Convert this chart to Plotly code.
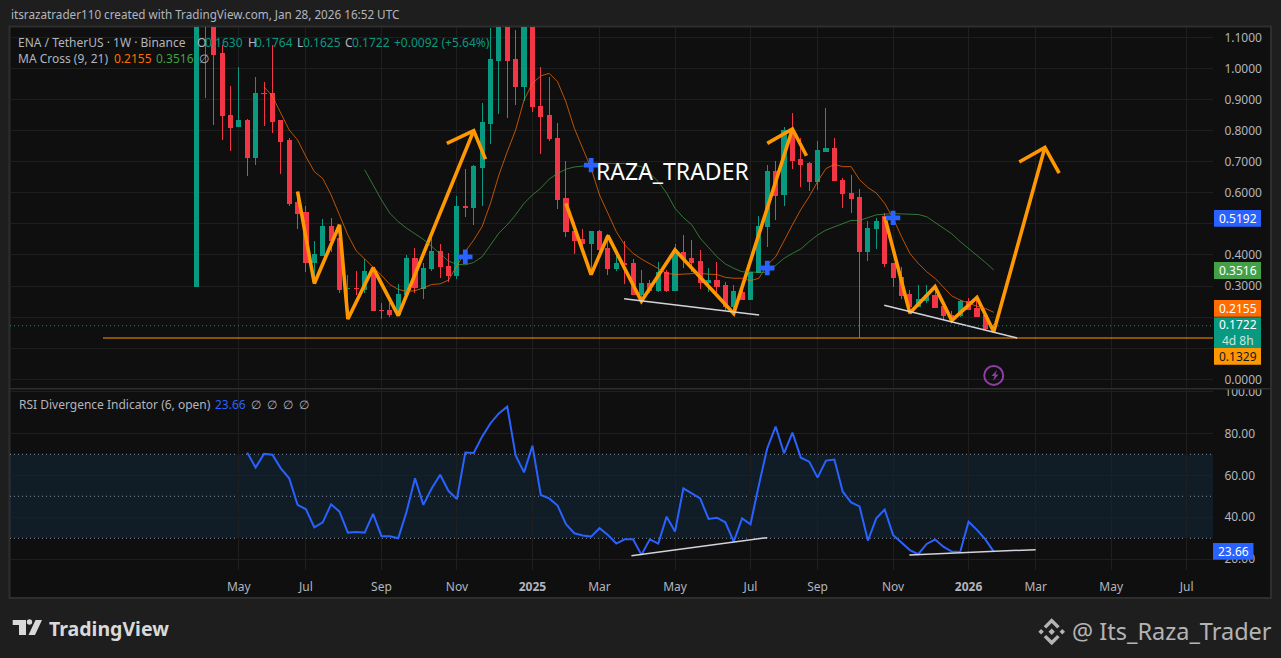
import pandas as pd
import plotly.graph_objects as go

# ---------- data ----------
first_bar = "2024-04-01"
opens = [.299,1.18,1.25,1.049,.847,.813,.831,.713,.920,.920,.831,.767,.569,.535,.375,.397,.493,.452,.291,.293,
         .290,.348,.222,.222,.209,.272,.390,.292,.355,.412,.364,.335,.555,.552,.680,.822,1.027,1.14,1.030,.941,
         1.16,.878,.847,.775,.580,.477,.451,.437,.477,.421,.355,.371,.371,.274,.309,.285,.345,.285,.408,.389,
         .380,.311,.319,.303,.233,.280,.258,.344,.491,.670,.593,.799,.708,.694,.637,.734,.744,.641,.599,.584,
         .411,.484,.523,.374,.329,.273,.235,.255,.268,.235,.206,.206,.251,.228,.206,.1630]
highs = [1.30,1.40,1.40,1.075,.943,1.004,.837,.972,.955,1.075,.834,.775,.604,.557,.445,.516,.520,.497,.335,.348,
         .386,.362,.244,.244,.305,.400,.423,.373,.464,.435,.407,.590,.676,.689,.888,1.13,1.20,1.20,1.124,1.25,
         1.22,1.003,.973,.824,.702,.507,.484,.477,.479,.466,.400,.445,.387,.351,.319,.378,.351,.434,.464,.448,
         .416,.357,.376,.314,.303,.314,.346,.526,.689,.702,.812,.856,.775,.698,.767,.872,.775,.646,.658,.612,
         .509,.518,.534,.374,.360,.287,.303,.303,.298,.244,.220,.255,.263,.260,.209,.1764]
lows = [.299,.906,.819,.770,.734,.810,.655,.690,.816,.793,.660,.556,.485,.346,.314,.397,.411,.278,.201,.271,
        .276,.220,.194,.201,.206,.272,.276,.258,.348,.327,.312,.322,.522,.497,.556,.757,.854,.842,.883,.895,
        .861,.726,.767,.547,.459,.403,.411,.341,.389,.335,.348,.308,.271,.255,.276,.281,.281,.285,.357,.346,
        .292,.281,.271,.222,.222,.255,.255,.344,.427,.513,.558,.678,.618,.607,.609,.730,.639,.552,.536,.1329,
        .380,.419,.362,.298,.257,.222,.233,.244,.228,.191,.186,.199,.222,.201,.159,.1625]
closes = [1.18,1.25,1.046,.847,.810,.831,.713,.920,.918,.829,.764,.564,.532,.375,.400,.493,.445,.290,.293,.291,
          .348,.220,.220,.209,.274,.390,.294,.358,.412,.362,.335,.555,.552,.683,.825,1.030,1.14,1.027,.941,1.16,
          .876,.845,.774,.577,.474,.448,.438,.477,.419,.355,.371,.369,.274,.309,.285,.345,.285,.411,.387,.377,
          .311,.319,.300,.233,.281,.258,.344,.493,.670,.590,.799,.705,.692,.637,.736,.744,.639,.597,.580,.411,
          .484,.509,.371,.326,.271,.235,.257,.269,.232,.206,.194,.251,.226,.203,.1630,.1722]

ma9_start = 8
ma9 = [.941,.910,.856,.802,.770,.716,.668,.646,.593,.529,.464,.413,.387,.360,.335,.305,
       .289,.283,.285,.294,.305,.307,.319,.365,.411,.448,.491,.566,.657,.732,.802,.898,
       .952,.976,.984,.957,.892,.807,.743,.678,.593,.534,.475,.432,.405,.387,.371,.357,
       .341,.337,.338,.341,.341,.338,.337,.328,.325,.325,.317,.325,.368,.394,.448,.497,
       .546,.588,.636,.678,.691,.684,.684,.642,.617,.599,.566,.518,.459,.405,.373,.346,
       .325,.298,.268,.255,.244,.235,.228,.2155]
ma21_start = 20
ma21 = [.674,.623,.577,.534,.507,.486,.468,.450,.427,.402,.380,.370,.368,.376,.394,.432,.470,.497,.529,.566,
        .593,.615,.644,.662,.676,.683,.686,.689,.692,.694,.694,.694,.689,.684,.662,.636,.599,.550,.520,.497,
        .454,.423,.394,.371,.357,.346,.344,.344,.344,.365,.389,.405,.419,.443,.464,.480,.491,.502,.511,.511,
        .521,.529,.531,.533,.532,.531,.530,.523,.505,.486,.468,.443,.421,.400,.376,.3516]
rsi_start = 6
rsi = [70.8,63.7,70.2,69.8,63.3,58.6,45.9,43.8,35.2,37.6,46.2,42.7,32.7,33.0,32.7,41.6,31.0,31.0,30.0,42.7,
       58.6,45.9,53.8,60.3,52.5,48.7,70.8,70.6,78.4,84.8,89.5,92.7,69.4,61.4,74.1,50.6,49.0,45.6,36.7,32.4,
       31.3,30.8,34.8,31.6,27.5,29.5,29.5,22.1,29.5,27.5,40.3,33.2,53.8,51.3,49.0,39.2,39.8,37.6,28.4,39.5,
       36.7,55.4,72.9,83.2,70.5,80.3,68.4,66.5,58.9,67.0,67.5,52.2,47.1,45.2,28.9,39.5,43.7,31.6,28.1,24.4,
       22.4,27.3,29.4,26.0,23.7,23.5,37.9,34.0,29.5,23.66]

cross_bars = [32, 47, 68, 83]
cross_prices = [.394, .689, .358, .5192]

zig1_bars = [12, 14, 17, 18, 21, 24, 33]
zig1_prices = [.604, .308, .497, .194, .359, .205, .800]
head1_bars = [29.8, 33, 34.4]
head1_prices = [.759, .800, .708]
zig2_bars = [44, 47, 49, 53, 57, 64, 71]
zig2_prices = [.566, .337, .462, .251, .416, .212, .805]
head2_bars = [68, 71, 72.67]
head2_prices = [.759, .805, .719]
zig3_bars = [82, 85, 88, 90, 93, 95, 101.1]
zig3_prices = [.523, .213, .298, .189, .263, .153, .746]
head3_bars = [98.04, 101.1, 102.8]
head3_prices = [.699, .746, .663]

trend1_bars = [50.93, 67.03]
trend1_prices = [.259, .207]
trend2_bars = [81.95, 97.8]
trend2_prices = [.238, .133]
rsi_trend1_bars = [51.8, 68]
rsi_trend1_values = [21.7, 30.3]
rsi_trend2_bars = [84.94, 100]
rsi_trend2_values = [22.1, 24.6]

support_price = 0.1329
support_bars = [-11.2, 130]
last_close = 0.1722

price_ticks = [0, .1, .2, .3, .4, .5, .6, .7, .8, .9, 1.0, 1.1]
price_labels = ["0.0000", "", "", "0.3000", "0.4000", "", "0.6000", "0.7000", "0.8000", "0.9000", "1.0000", "1.1000"]
rsi_ticks = [20, 40, 60, 80, 100]
rsi_levels = [30, 50, 70]
time_ticks = ["2024-05-06","2024-07-01","2024-09-02","2024-11-04","2025-01-06","2025-03-03","2025-05-05",
              "2025-07-07","2025-09-01","2025-11-03","2026-01-05","2026-03-02","2026-05-04","2026-07-06"]
time_labels = ["May","Jul","Sep","Nov","<b>2025</b>","Mar","May","Jul","Sep","Nov","<b>2026</b>","Mar","May","Jul"]

# ---------- helpers ----------
W, H = 1281, 658
L, R, T, B = 10, 1213, 27, 570
PANE_SPLIT_TOP, PANE_SPLIT_BOT = 388.5, 389.5
base = pd.Timestamp(first_bar)
dates = [base + pd.Timedelta(days=7 * i) for i in range(len(closes))]


def bar_dates(bars):
    return [base + pd.Timedelta(days=7 * float(b)) for b in bars]


def px(x):
    return (x - L) / (R - L)


def py(y):
    return (B - y) / (B - T)


BG = "#1e1e1e"
PANE = "#0f0f0f"
GRID = "#1f1f1f"
BORDER = "#2e2e2e"
TXT = "#b2b5be"
UP = "#089981"
DOWN = "#f23645"
AMBER = "#ff9800"
BLUE = "#2962ff"
FONT = "Noto Sans"

fig = go.Figure()


def line(xs, ys, color, width, yaxis="y", xaxis="x", dash=None):
    fig.add_trace(go.Scatter(x=xs, y=ys, mode="lines", yaxis=yaxis, xaxis=xaxis, hoverinfo="skip",
                             showlegend=False, line=dict(color=color, width=width, dash=dash)))


# orange drawings lie under the candles
line(bar_dates(support_bars), [support_price, support_price], AMBER, 1.2)
for b, p, wd in [(zig1_bars, zig1_prices, 3.6), (head1_bars, head1_prices, 3.6),
                 (zig2_bars, zig2_prices, 3.6), (head2_bars, head2_prices, 3.6),
                 (zig3_bars, zig3_prices, 3.6), (head3_bars, head3_prices, 3.6)]:
    line(bar_dates(b), p, AMBER, wd)

fig.add_trace(go.Candlestick(
    x=dates, open=opens, high=highs, low=lows, close=closes, showlegend=False, hoverinfo="skip",
    increasing=dict(line=dict(color=UP, width=1), fillcolor=UP),
    decreasing=dict(line=dict(color=DOWN, width=1), fillcolor=DOWN)))

line(dates[ma9_start:], ma9, "rgba(255,109,0,0.72)", 1)
line(dates[ma21_start:], ma21, "rgba(67,160,71,0.72)", 1)
line(bar_dates(trend1_bars), trend1_prices, "#d1d4dc", 1.5)
line(bar_dates(trend2_bars), trend2_prices, "#d1d4dc", 1.5)

fig.add_trace(go.Scatter(x=bar_dates(cross_bars), y=cross_prices, mode="markers", showlegend=False, hoverinfo="skip",
                         marker=dict(symbol="cross", size=12, color=BLUE, line=dict(width=0))))
fig.add_trace(go.Scatter(x=bar_dates([95]), y=[.0124], mode="markers", showlegend=False, hoverinfo="skip",
                         marker=dict(symbol="circle-open", size=19, color="#8e3fa5", line=dict(width=2, color="#8e3fa5"))))

# RSI pane
line(bar_dates(support_bars), [rsi_levels[0]] * 2, "rgba(0,0,0,0)", 0, yaxis="y2", xaxis="x2")
line(dates[rsi_start:], rsi, BLUE, 2, yaxis="y2", xaxis="x2")
line(bar_dates(rsi_trend1_bars), rsi_trend1_values, "#d1d4dc", 1.5, yaxis="y2", xaxis="x2")
line(bar_dates(rsi_trend2_bars), rsi_trend2_values, "#d1d4dc", 1.5, yaxis="y2", xaxis="x2")

shapes = [
    # whole chart card
    dict(type="rect", xref="paper", yref="paper", x0=px(9.5), x1=px(1271), y0=py(598), y1=py(26.5),
         fillcolor=PANE, line=dict(color=BORDER, width=2), layer="below"),
    # RSI band and levels
    dict(type="rect", xref="x2", yref="y2", x0="2023-10-28", x1="2026-07-28", y0=rsi_levels[0], y1=rsi_levels[2],
         fillcolor="rgba(33,150,243,0.10)", line=dict(width=0), layer="below"),
    # last price line
    dict(type="line", xref="paper", yref="y", x0=0, x1=1, y0=last_close, y1=last_close,
         line=dict(color=UP, width=1, dash="1px,3px"), layer="above"),
    # pane divider
    dict(type="line", xref="paper", yref="paper", x0=px(10), x1=px(1271), y0=py(388.7), y1=py(388.7),
         line=dict(color=BORDER, width=1.5), layer="above"),
    # clip the 100.00 label at the divider
    dict(type="rect", xref="paper", yref="paper", x0=px(1216), x1=px(1268), y0=py(388), y1=py(384),
         fillcolor=PANE, line=dict(width=0), layer="above"),
]
for lv in rsi_levels:
    shapes.append(dict(type="line", xref="paper", yref="y2", x0=0, x1=1, y0=lv, y1=lv,
                       line=dict(color="#8a8d96", width=1, dash="1px,3px"), layer="below"))

annotations = []


def text(x, y, s, color=TXT, size=12, anchor="left", font=FONT):
    annotations.append(dict(xref="paper", yref="paper", x=px(x), y=py(y), text=s, showarrow=False,
                            xanchor=anchor, yanchor="middle", borderpad=0,
                            font=dict(family=font, size=size, color=color)))


def tag(x0, x1, y0, y1, fill, lines, color="#ffffff"):
    shapes.append(dict(type="rect", xref="paper", yref="paper", x0=px(x0), x1=px(x1), y0=py(y1), y1=py(y0),
                       fillcolor=fill, line=dict(width=0), layer="above"))
    n = len(lines)
    for k, (s, c) in enumerate(lines):
        text((x0 + x1) / 2, y0 + (y1 - y0) * (k + .5) / n, s, c, 12, "center")


def poly(points, fill):
    d = "M" + " L".join(f"{px(a):.5f},{py(b):.5f}" for a, b in points) + " Z"
    shapes.append(dict(type="path", xref="paper", yref="paper", path=d, fillcolor=fill,
                       line=dict(width=0), layer="above"))


# right-hand price tags
tag(1214, 1261, 210, 226.7, BLUE, [("0.5192", "#ffffff")])
tag(1214, 1261, 262, 279, "#43a047", [("0.3516", "#ffffff")])
tag(1214, 1261, 300, 316.8, "#ff6d00", [("0.2155", "#ffffff")])
tag(1214, 1261, 317.2, 348, UP, [("0.1722", "#ffffff"), ("4d 8h", "#c8e6e0")])
tag(1214, 1261, 348, 364.7, AMBER, [("0.1329", "#131722")])
tag(1213, 1253.5, 543, 559.7, BLUE, [("23.66", "#ffffff")])

# header and legends
text(10, 14, "itsrazatrader110 created with TradingView.com, Jan 28, 2026 16:52 UTC", TXT, 11.7)
text(17, 42, "ENA / TetherUS · 1W · Binance", TXT, 12)
text(196, 42, "O", TXT, 12); text(204, 42, "0.1630", UP, 12)
text(247, 42, "H", TXT, 12); text(254, 42, "0.1764", UP, 12)
text(296, 42, "L", TXT, 12); text(302, 42, "0.1625", UP, 12)
text(344, 42, "C", TXT, 12); text(351, 42, "0.1722", UP, 12)
text(393, 42, "+0.0092 (+5.64%)", UP, 12)
text(17, 59, "MA Cross (9, 21)", TXT, 12)
text(113, 59, "0.2155", "#ff6d00", 12)
text(155, 59, "0.3516", "#43a047", 12)
text(198, 59, "∅", TXT, 12)
text(18, 404, "RSI Divergence Indicator (6, open)", TXT, 12)
text(214, 404, "23.66", BLUE, 12)
for xx in (250, 266, 282, 298):
    text(xx, 404, "∅", TXT, 12)
text(595, 171, "RAZA_TRADER", "#ffffff", 23)

# lightning bolt in the event badge
poly([(997, 370), (991.5, 376), (994.5, 376), (993, 381), (998.5, 374.5), (995.5, 374.5)], "#8e3fa5")

# footer: TradingView mark and word
LOGO = "#d9d9d9"
poly([(12.7, 620), (26, 620), (26, 635), (19, 635), (19, 625), (12.7, 625)], LOGO)
shapes.append(dict(type="circle", xref="paper", yref="paper", x0=px(26.8), x1=px(32.2), y0=py(624.7), y1=py(619.3),
                   fillcolor=LOGO, line=dict(width=0), layer="above"))
poly([(35.5, 620), (42, 620), (35, 635), (28.5, 635)], LOGO)
text(48, 628, "<b>TradingView</b>", LOGO, 19.5)

# footer: Binance mark and handle
cx, cy = 1051.7, 631.7
MARK = "#b4b4b4"
poly([(cx, cy - 13.5), (cx + 8, cy - 5.5), (cx + 5.5, cy - 3.2), (cx, cy - 8.6), (cx - 5.5, cy - 3.2), (cx - 8, cy - 5.5)], MARK)
poly([(cx, cy + 13.5), (cx + 8, cy + 5.5), (cx + 5.5, cy + 3.2), (cx, cy + 8.6), (cx - 5.5, cy + 3.2), (cx - 8, cy + 5.5)], MARK)
for dx, r in [(0, 3.2), (-10.6, 2.7), (10.6, 2.7)]:
    poly([(cx + dx, cy - r), (cx + dx + r, cy), (cx + dx, cy + r), (cx + dx - r, cy)], MARK)
text(1071, 631, "@ Its_Raza_Trader", "#b4b4b4", 23.5)

axis_common = dict(showline=False, zeroline=False, gridcolor=GRID, gridwidth=1)
split = py(PANE_SPLIT_TOP)
split2 = py(PANE_SPLIT_BOT)
x_range = ["2023-10-28", "2026-07-28"]

fig.update_layout(
    width=W, height=H, autosize=False,
    margin=dict(l=L, r=W - R, t=T, b=H - B, pad=0),
    paper_bgcolor=BG, plot_bgcolor="rgba(0,0,0,0)",
    font=dict(family=FONT, color=TXT, size=12),
    showlegend=False, hovermode=False, boxgap=0.3,
    shapes=shapes, annotations=annotations,
    xaxis=dict(domain=[0, 1], range=x_range, anchor="y", tickvals=time_ticks, ticktext=[""] * len(time_ticks),
               rangeslider=dict(visible=False), ticks="", **axis_common),
    xaxis2=dict(domain=[0, 1], range=x_range, anchor="y2", matches="x", tickvals=time_ticks, ticktext=time_labels,
                ticks="outside", ticklen=6, tickcolor="rgba(0,0,0,0)", tickfont=dict(size=12, color=TXT),
                tickangle=0, **axis_common),
    yaxis=dict(domain=[split, 1], range=[-0.0296, 1.1332], side="right", anchor="x",
               tickvals=price_ticks, ticktext=price_labels,
               ticks="outside", ticklen=8, tickcolor="rgba(0,0,0,0)", tickfont=dict(size=12, color=TXT), **axis_common),
    yaxis2=dict(domain=[0, split2], range=[14.9, 100.86], side="right", anchor="x2",
                tickvals=rsi_ticks, ticktext=[f"{v:.2f}" for v in rsi_ticks],
                ticks="outside", ticklen=8, tickcolor="rgba(0,0,0,0)", tickfont=dict(size=12, color=TXT), **axis_common),
)

crisp = ("document.body.style.margin='0';document.body.style.background='#1e1e1e';"
         "var s=document.createElement('style');"
         "s.textContent='.boxlayer path{shape-rendering:crispEdges!important}';"
         "document.head.appendChild(s);")
fig.write_html("out.html", config=dict(displayModeBar=False), post_script=crisp)
